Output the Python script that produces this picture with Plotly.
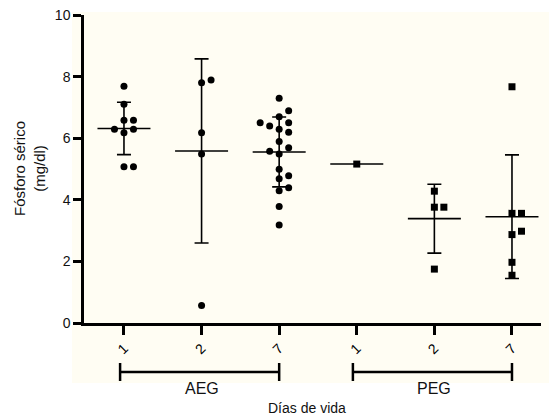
import numpy as np
import plotly.graph_objects as go

# ---- data ----
day_labels = ["1", "2", "7", "1", "2", "7"]
group_names = ["AEG", "PEG"]
group_members = [[0, 1, 2], [3, 4, 5]]

aeg_d1 = [7.69, 7.10, 6.58, 6.58, 6.18, 6.29, 6.29, 5.07, 5.07]
aeg_d2 = [7.80, 7.89, 6.18, 5.49, 0.57]
aeg_d7 = [7.30, 6.70, 6.29, 5.89, 5.49, 4.99, 4.68, 4.29, 3.78, 3.18,
          6.89, 6.50, 6.19, 5.69, 4.39, 6.40, 5.58, 4.78, 6.50]
peg_d1 = [5.16]
peg_d2 = [4.28, 3.76, 3.76, 1.75]
peg_d7 = [7.67, 3.56, 3.56, 2.87, 2.98, 1.97, 1.55]

series = [aeg_d1, aeg_d2, aeg_d7, peg_d1, peg_d2, peg_d7]
symbols = ["circle", "circle", "circle", "square", "square", "square"]

# ---- layout constants ----
W, H = 549, 418
L, R, T, B = 84, 8, 15, 95
XR = [0.485, 6.374]
YR = [0, 10]
plot_w = W - L - R
plot_h = H - T - B
px_per_x = plot_w / (XR[1] - XR[0])
px_per_y = plot_h / (YR[1] - YR[0])

slot_px = 9.5
min_dy_px = 7.0
slot_order = [0, 1, -1, -2, 2, 3, -3]


def swarm(values):
    placed = []  # (slot, y)
    offs = []
    for v in values:
        for s in slot_order:
            ok = all(abs(v - y) * px_per_y >= min_dy_px for (ss, y) in placed if ss == s)
            if ok:
                placed.append((s, v))
                offs.append(s * slot_px / px_per_x)
                break
    return offs


def py(pix):
    """pixel row from top -> paper y"""
    return ((H - B) - pix) / plot_h


def px(pix):
    return (pix - L) / plot_w


fig = go.Figure()
mean_half = 26.5 / px_per_x
for i, vals in enumerate(series):
    xc = i + 1
    offs = swarm(vals)
    xs = [xc + o for o in offs]
    fig.add_trace(go.Scatter(
        x=xs, y=vals, mode="markers",
        marker=dict(symbol=symbols[i], size=7, color="black", line=dict(width=0)),
        showlegend=False, hoverinfo="y"))
    arr = np.array(vals)
    m = float(arr.mean())
    fig.add_trace(go.Scatter(
        x=[xc - mean_half, xc + mean_half], y=[m, m], mode="lines",
        line=dict(color="black", width=1.6), showlegend=False, hoverinfo="skip"))
    if len(vals) > 1:
        sd = float(arr.std(ddof=1))
        fig.add_trace(go.Scatter(
            x=[xc], y=[m], mode="markers", marker=dict(size=1, color="rgba(0,0,0,0)"),
            error_y=dict(type="data", array=[sd], visible=True, color="black",
                         thickness=1.6, width=7),
            showlegend=False, hoverinfo="skip"))

cream = "#fffdf3"
shapes = [dict(type="rect", xref="paper", yref="paper", layer="below",
               x0=px(72), x1=px(560), y0=py(383), y1=py(12),
               fillcolor=cream, line=dict(width=0))]

annotations = []
br_y = py(372)
cap = 9 / plot_h
for name, mem in zip(group_names, group_members):
    x0 = mem[0] + 1 - 0.05
    x1 = mem[-1] + 1
    shapes.append(dict(type="line", xref="x", yref="paper", x0=x0, x1=x1, y0=br_y, y1=br_y,
                       line=dict(color="black", width=2.5)))
    for xx in (x0, x1):
        shapes.append(dict(type="line", xref="x", yref="paper", x0=xx, x1=xx,
                           y0=br_y - cap, y1=br_y + cap, line=dict(color="black", width=2.5)))
    annotations.append(dict(x=(mem[0] + mem[-1]) / 2 + 1, y=py(378), xref="x", yref="paper",
                            text=name, showarrow=False, yanchor="top", xanchor="center",
                            font=dict(size=16, color="#111")))

annotations.append(dict(x=px(307), y=py(398), xref="paper", yref="paper",
                        text="Días de vida", showarrow=False, yanchor="top", xanchor="center",
                        font=dict(size=14, color="#111")))
annotations.append(dict(x=px(29), y=0.5, xref="paper", yref="paper",
                        text="Fósforo sérico<br>(mg/dl)", showarrow=False, textangle=-90,
                        xanchor="center", yanchor="middle",
                        font=dict(size=15, color="#111")))

fig.update_layout(
    width=W, height=H,
    margin=dict(l=L, r=R, t=T, b=B, pad=0),
    paper_bgcolor="white", plot_bgcolor=cream,
    font=dict(family="Liberation Sans, Arial, sans-serif", color="#111"),
    shapes=shapes, annotations=annotations,
    xaxis=dict(range=XR, tickmode="array", tickvals=list(range(1, 7)), ticktext=day_labels,
               tickangle=-45, ticks="outside", ticklen=9, tickwidth=2.5, tickcolor="black",
               showline=True, linewidth=2.5, linecolor="black", showgrid=False, zeroline=False,
               tickfont=dict(size=14, color="#000")),
    yaxis=dict(range=YR, tickmode="array", tickvals=[0, 2, 4, 6, 8, 10],
               ticks="outside", ticklen=8, tickwidth=2.5, tickcolor="black",
               showline=True, linewidth=2.5, linecolor="black", showgrid=False, zeroline=False,
               tickfont=dict(size=14, color="#111")),
)

fig.write_html("out.html", config={"displayModeBar": False},
               post_script="document.body.style.margin='0';document.body.style.overflow='hidden';")
